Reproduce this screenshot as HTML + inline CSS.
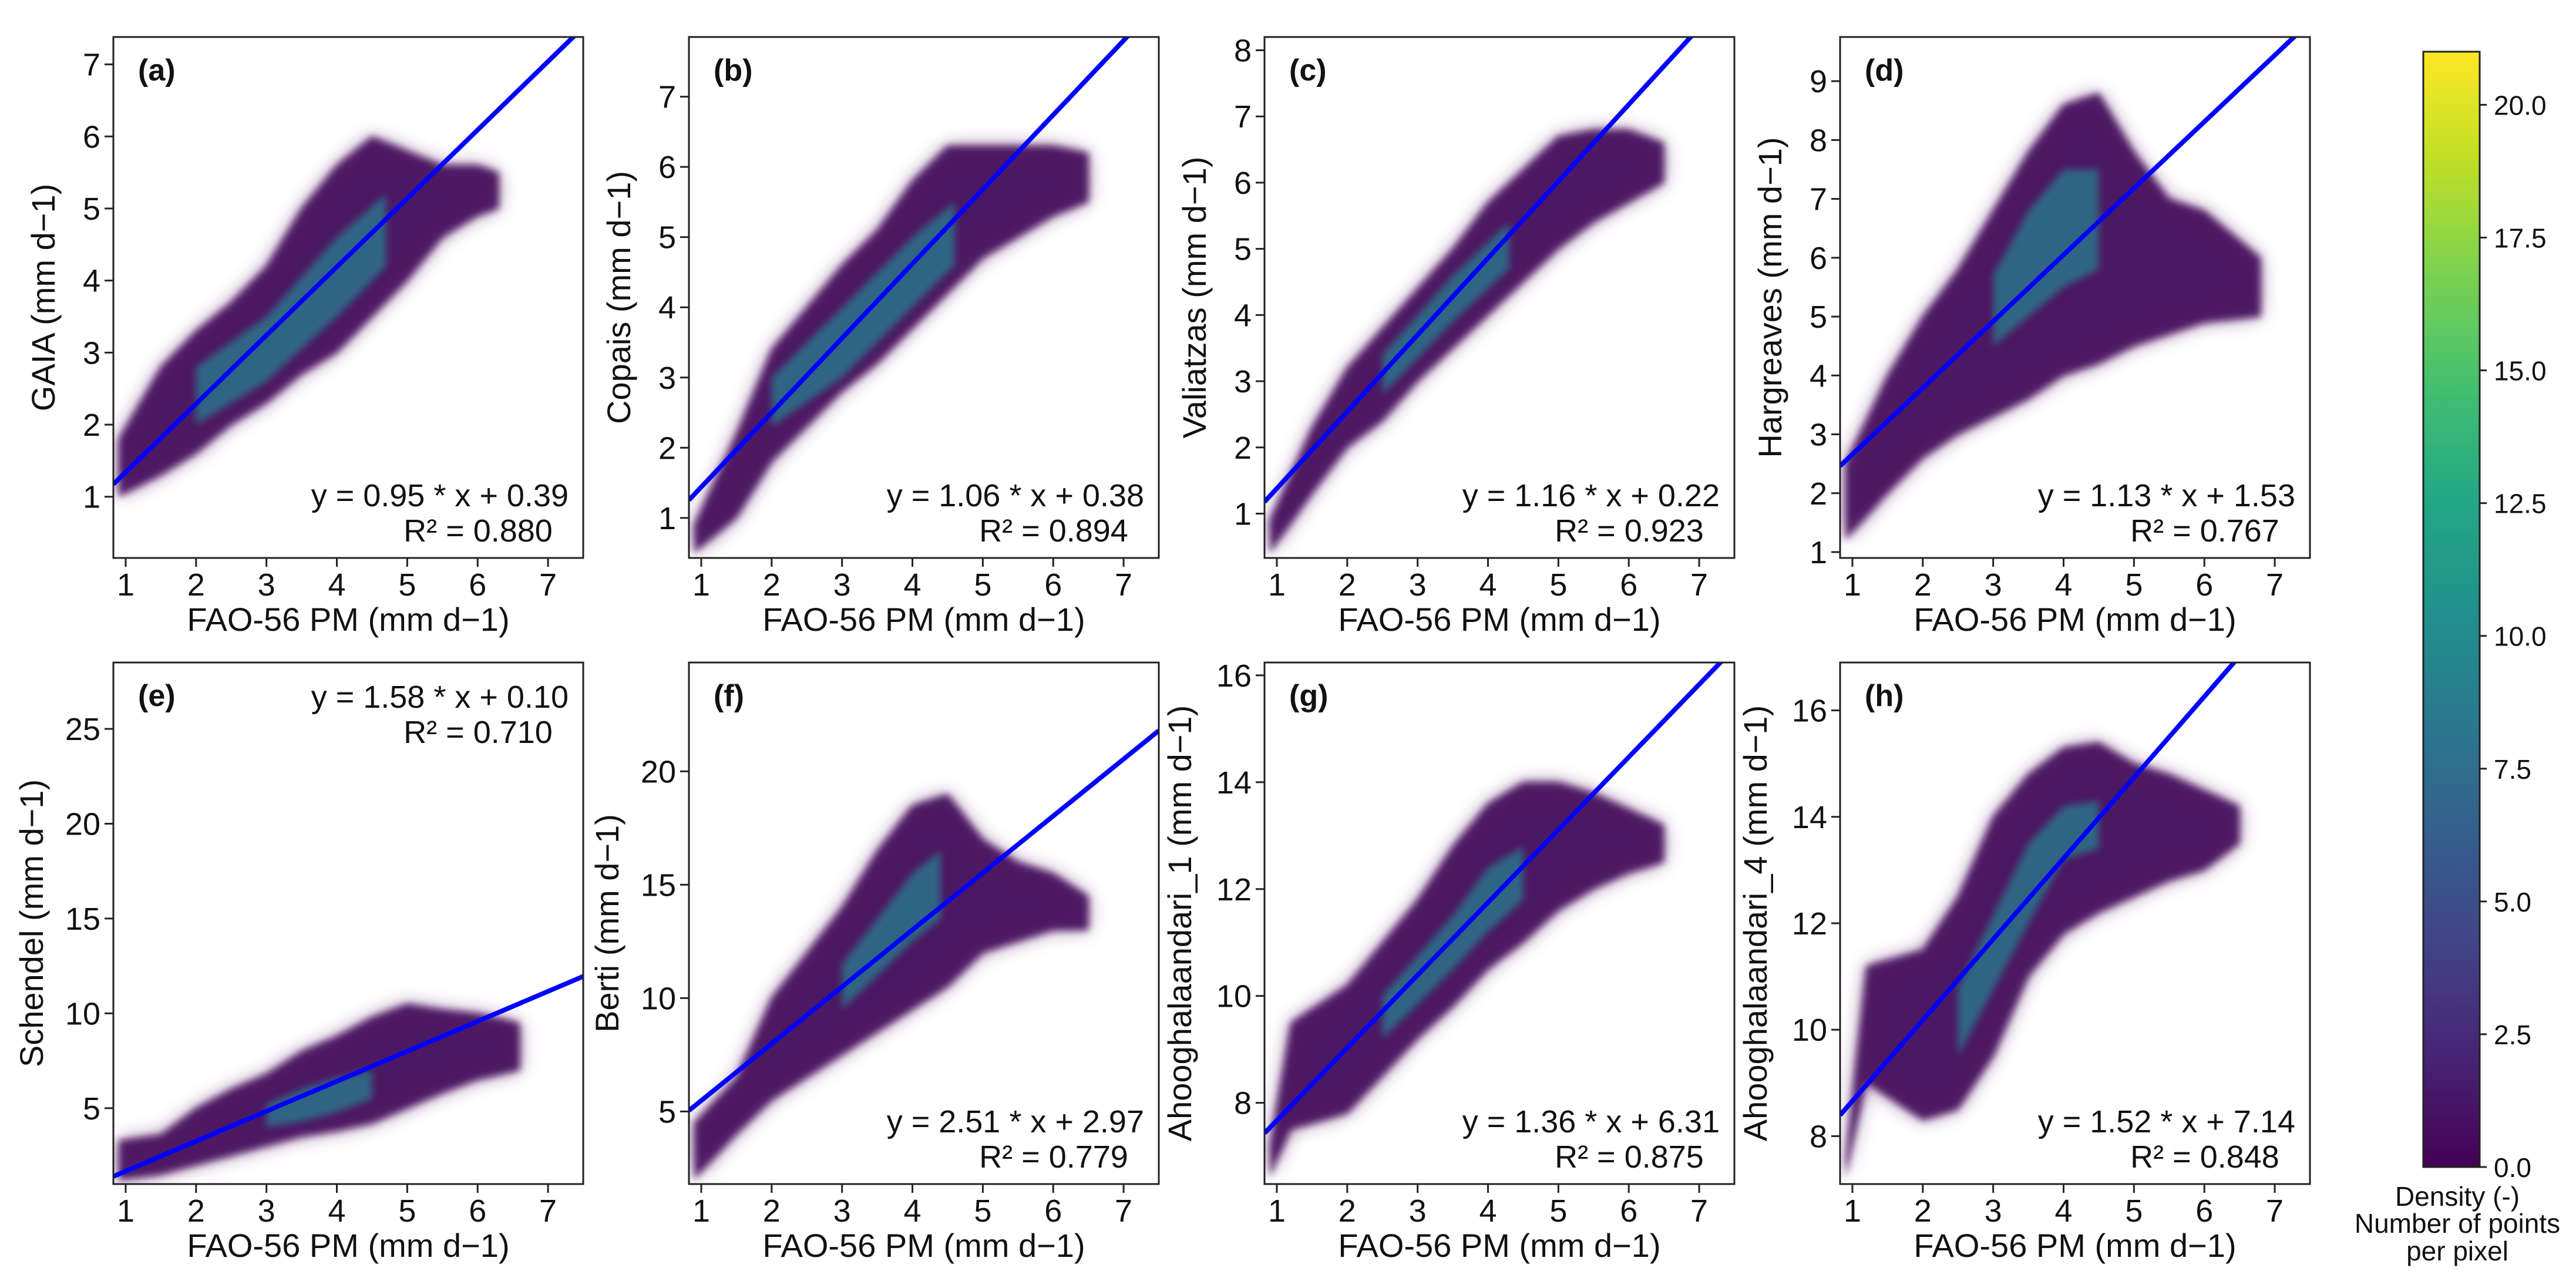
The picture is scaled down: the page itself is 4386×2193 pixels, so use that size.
<!DOCTYPE html>
<html><head><meta charset="utf-8"><style>
html,body{margin:0;padding:0;background:#fff;}
svg{display:block;font-family:"Liberation Sans",sans-serif;}
</style></head><body>
<svg id="fig" width="4386" height="2193" viewBox="0 0 4386 2193" xmlns="http://www.w3.org/2000/svg">
<defs>
<linearGradient id="viridis" x1="0" y1="1" x2="0" y2="0">
<stop offset="0" stop-color="#440154"/><stop offset="0.1" stop-color="#482475"/><stop offset="0.2" stop-color="#414487"/><stop offset="0.3" stop-color="#355f8d"/><stop offset="0.4" stop-color="#2a788e"/><stop offset="0.5" stop-color="#21918c"/><stop offset="0.6" stop-color="#22a884"/><stop offset="0.7" stop-color="#44bf70"/><stop offset="0.8" stop-color="#7ad151"/><stop offset="0.9" stop-color="#bddf26"/><stop offset="1" stop-color="#fde725"/>
</linearGradient>
<filter id="soft" x="-10%" y="-10%" width="120%" height="120%"><feGaussianBlur stdDeviation="6"/></filter>
<filter id="soft2" x="-10%" y="-10%" width="120%" height="120%"><feGaussianBlur stdDeviation="16"/></filter>
</defs>
<g id="panels"></g>
<g id="colorbar"></g>
</svg>
<script>
const NS="http://www.w3.org/2000/svg";
// ---- data ----
const panelLetters=["(a)","(b)","(c)","(d)","(e)","(f)","(g)","(h)"];
const yLabels=["GAIA (mm d\u22121)","Copais (mm d\u22121)","Valiatzas (mm d\u22121)","Hargreaves (mm d\u22121)","Schendel (mm d\u22121)","Berti (mm d\u22121)","Ahooghalaandari_1 (mm d\u22121)","Ahooghalaandari_4 (mm d\u22121)"];
const slopes=[0.95,1.06,1.16,1.13,1.58,2.51,1.36,1.52];
const intercepts=[0.39,0.38,0.22,1.53,0.10,2.97,6.31,7.14];
const r2Values=["0.880","0.894","0.923","0.767","0.710","0.779","0.875","0.848"];
const yMins=[0.15,0.43,0.33,0.9,1.0,1.8,6.48,7.1];
const yMaxs=[7.38,7.85,8.2,9.75,28.5,24.8,16.24,16.9];
const yTickSets=[[1,2,3,4,5,6,7],[1,2,3,4,5,6,7],[1,2,3,4,5,6,7,8],[1,2,3,4,5,6,7,8,9],[5,10,15,20,25],[5,10,15,20],[8,10,12,14,16],[8,10,12,14,16]];
const xTicks=[1,2,3,4,5,6,7];
// density cloud envelopes: [x, yLow, yHigh]
const clouds=[
[[0.9,1.0,1.8],[1.5,1.3,2.8],[2,1.6,3.3],[2.5,2.0,3.7],[3,2.3,4.2],[3.5,2.7,5.0],[4,3.0,5.6],[4.5,3.5,6.0],[5,4.0,5.8],[5.5,4.6,5.6],[6,4.9,5.6],[6.3,5.0,5.5]],
[[0.9,0.5,0.9],[1.5,1.0,2.2],[2,1.8,3.4],[2.5,2.3,4.0],[3,2.8,4.6],[3.5,3.2,5.1],[4,3.7,5.8],[4.5,4.2,6.3],[5,4.7,6.3],[5.5,5.0,6.3],[6,5.3,6.3],[6.5,5.5,6.2]],
[[0.9,0.4,0.9],[1.5,1.3,2.3],[2,2.0,3.2],[2.5,2.4,3.8],[3,3.0,4.4],[3.5,3.5,5.0],[4,4.0,5.7],[4.5,4.5,6.2],[5,5.0,6.7],[5.5,5.4,6.8],[6,5.7,6.8],[6.5,6.0,6.6]],
[[0.9,1.2,2.5],[1.5,2.0,4.0],[2,2.6,5.0],[2.5,3.0,5.8],[3,3.3,6.8],[3.5,3.6,7.8],[4,4.0,8.6],[4.5,4.2,8.8],[5,4.5,7.8],[5.5,4.7,7.0],[6,4.9,6.8],[6.8,5.0,6.0]],
[[0.9,1.2,3.3],[1.5,1.5,3.6],[2,2.0,5.0],[2.5,2.5,6.0],[3,3.0,6.8],[3.5,3.5,8.0],[4,3.8,8.8],[4.5,4.2,9.8],[5,5.0,10.5],[5.5,5.8,10.2],[6,6.5,10.0],[6.6,7.0,9.5]],
[[0.9,2,4.5],[1.5,4,6.5],[2,5.5,10],[2.5,6.5,12],[3,7.5,14],[3.5,8.5,16.5],[4,9.5,18.5],[4.5,10.5,19],[5,12,17],[5.5,12.5,16],[6,13,15.5],[6.5,13,14.5]],
[[0.9,6.6,7.2],[1.2,7.5,9.5],[2,7.8,10.2],[2.5,8.5,11],[3,9.2,11.8],[3.5,9.8,12.8],[4,10.5,13.6],[4.5,11,14],[5,11.6,14],[5.5,12,13.8],[6,12.3,13.5],[6.5,12.5,13.2]],
[[0.9,7.2,7.6],[1.2,9,11.2],[2,8.3,11.5],[2.5,8.5,12.5],[3,9.5,14],[3.5,11,14.8],[4,11.8,15.3],[4.5,12.2,15.4],[5,12.5,15],[5.5,12.8,14.8],[6,13,14.5],[6.5,13.5,14.2]]
];
const cores=[
[[2,2.0,2.8],[3,2.6,3.5],[4,3.5,4.6],[4.7,4.2,5.2]],
[[2,2.3,3.0],[3,3.0,4.0],[4,4.0,5.0],[4.6,4.6,5.5]],
[[2.5,2.8,3.4],[3.5,3.9,4.6],[4.3,4.7,5.4]],
[[3,4.5,5.7],[3.5,5.0,6.8],[4,5.5,7.5],[4.5,5.8,7.5]],
[[3,4,5.2],[3.5,4.3,6],[4,4.8,6.6],[4.5,5.5,7]],
[[3,9.5,11.5],[3.5,11,13.5],[4,12.5,15.5],[4.4,13.5,16.5]],
[[2.5,9.2,10],[3.5,10.5,11.5],[4,11.2,12.4],[4.5,11.8,12.8]],
[[2.5,9.5,10.8],[3.5,12,13.5],[4,13.2,14.2],[4.5,13.4,14.3]]
];
const cbTicks=[0,2.5,5,7.5,10,12.5,15,17.5,20];
const cbMax=21;
// ---- layout ----
const xMin=0.825,xMax=7.5;
const lefts=[193,1173,2153,3133],W=800;
const rowTop=[63,1128],rowBot=[950,2016];
const root=document.getElementById('panels');
function el(tag,attrs,parent,text){const e=document.createElementNS(NS,tag);for(const k in attrs)e.setAttribute(k,attrs[k]);if(text!==undefined)e.textContent=text;parent.appendChild(e);return e;}

for(let i=0;i<8;i++){
  const L=lefts[i%4],R=L+W,T=rowTop[Math.floor(i/4)],B=rowBot[Math.floor(i/4)];
  const sx=v=>L+(v-xMin)/(xMax-xMin)*(R-L);
  const sy=v=>B-(v-yMins[i])/(yMaxs[i]-yMins[i])*(B-T);
  const g=el('g',{},root);
  
  
  const cp=el('clipPath',{id:'clip'+i},g);
  el('rect',{x:L,y:T,width:W,height:B-T},cp);
  const plot=el('g',{'clip-path':'url(#clip'+i+')'},g);
  function band(pts,fill,op,filt,name){
    const up=pts.map(p=>sx(p[0])+','+sy(p[2]));
    const lo=pts.slice().reverse().map(p=>sx(p[0])+','+sy(p[1]));
    const a={points:up.concat(lo).join(' '),fill:fill,opacity:op};
    if(filt)a.filter='url(#'+filt+')';
    const p=el('polygon',a,plot);
    
    
  }
  band(clouds[i],'#440154',0.5,'soft2','density-halo');
  band(clouds[i],'#45075b',0.9,'soft','density-cloud');
  band(cores[i],'#277f8e',0.75,'soft','density-core');
  // fit line
  const ln=el('line',{x1:sx(xMin),y1:sy(slopes[i]*xMin+intercepts[i]),x2:sx(xMax),y2:sy(slopes[i]*xMax+intercepts[i]),stroke:'#0000ff','stroke-width':8},plot);
  
  
  const fr=el('rect',{x:L,y:T,width:W,height:B-T,fill:'none',stroke:'#222','stroke-width':3},g);
  
  
  xTicks.forEach(t=>{
    el('line',{x1:sx(t),y1:B,x2:sx(t),y2:B+15,stroke:'#222','stroke-width':3},g);
    const tx=el('text',{x:sx(t),y:B+64,'font-size':54,'text-anchor':'middle',fill:'#111'},g,String(t));
    
    
  });
  yTickSets[i].forEach(t=>{
    el('line',{x1:L-15,y1:sy(t),x2:L,y2:sy(t),stroke:'#222','stroke-width':3},g);
    const ty=el('text',{x:L-22,y:sy(t)+19,'font-size':54,'text-anchor':'end',fill:'#111'},g,String(t));
    
    
  });
  const xl=el('text',{x:(L+R)/2,y:B+124,'font-size':56,'text-anchor':'middle',fill:'#111'},g,'FAO-56 PM (mm d\u22121)');
  
  
  const yc=(T+B)/2, yx=L-(i>=6?125:i>=4?120:100);
  const yl=el('text',{x:yx,y:yc,'font-size':56,'text-anchor':'middle',fill:'#111',transform:'rotate(-90 '+yx+' '+yc+')'},g,yLabels[i]);
  
  
  const pl=el('text',{x:L+42,y:T+74,'font-size':52,'font-weight':'bold',fill:'#111'},g,panelLetters[i]);
  
  
  const eq='y = '+slopes[i].toFixed(2)+' * x + '+intercepts[i].toFixed(2);
  const eY=i===4?T+77:B-88, rY=i===4?T+137:B-28;
  const et=el('text',{x:R-25,y:eY,'font-size':54,'text-anchor':'end',fill:'#111'},g,eq);
  
  
  const rt=el('text',{x:R-179,y:rY,'font-size':54,'text-anchor':'middle',fill:'#111'},g,'R\u00b2 = '+r2Values[i]);
  
  
}
// colorbar
const cb=document.getElementById('colorbar');
const cL=4126,cR=4222,cT=88,cZ=1987;
const cy=v=>cZ-v/cbMax*(cZ-cT);
const bar=el('rect',{x:cL,y:cT,width:cR-cL,height:cZ-cT,fill:'url(#viridis)',stroke:'#222','stroke-width':3},cb);


cbTicks.forEach(t=>{
  el('line',{x1:cR,y1:cy(t),x2:cR+12,y2:cy(t),stroke:'#222','stroke-width':3},cb);
  const tl=el('text',{x:cR+24,y:cy(t)+17,'font-size':46,fill:'#111'},cb,t.toFixed(1));
  
  
});
[['Density (-)',2053],['Number of points',2099],['per pixel',2146]].forEach(a=>{
  const t=el('text',{x:4184,y:a[1],'font-size':46,'text-anchor':'middle',fill:'#111'},cb,a[0]);
  
  
});
</script>
</body></html>
